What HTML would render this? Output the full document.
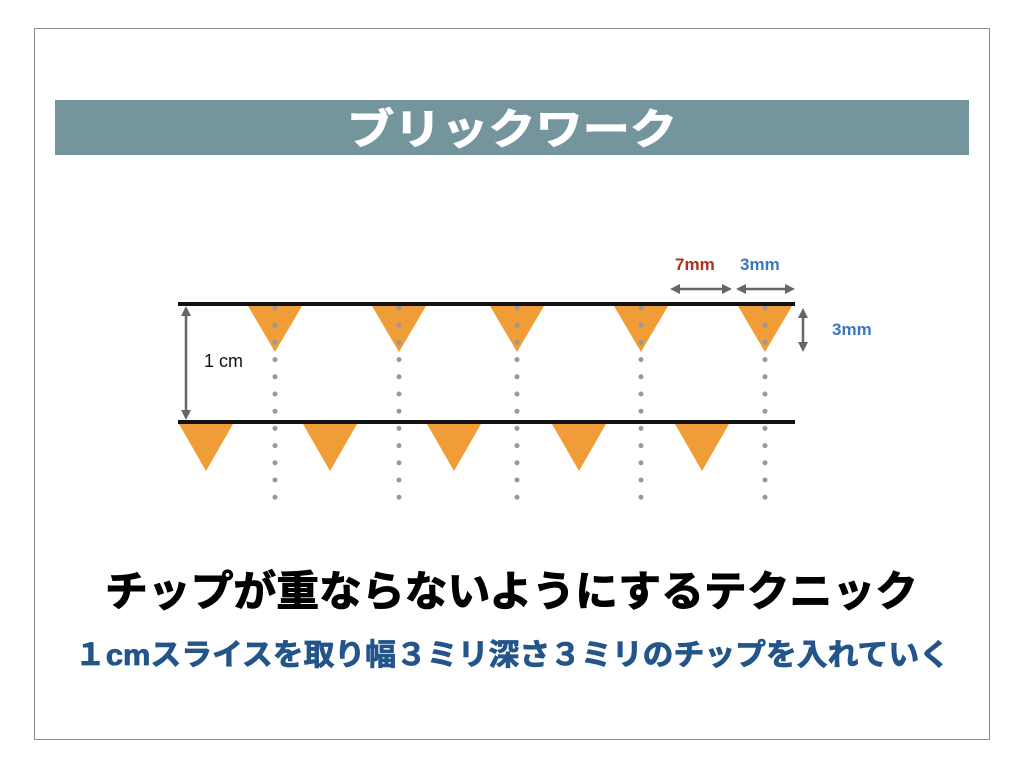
<!DOCTYPE html>
<html><head><meta charset="utf-8"><style>
html,body{margin:0;padding:0;background:#fff;}
svg{display:block}
</style></head><body>
<svg width="1024" height="768" viewBox="0 0 1024 768" xmlns="http://www.w3.org/2000/svg" font-family="'Liberation Sans','Noto Sans CJK JP',sans-serif">
<rect x="0" y="0" width="1024" height="768" fill="#fff"/>
<rect x="34.5" y="28.5" width="955" height="711" fill="none" stroke="#888" stroke-width="1"/>
<rect x="55" y="100" width="914" height="55" fill="#74959b"/>
<text x="512" y="144" text-anchor="middle" fill="#fff" font-size="42" font-weight="bold" textLength="330" lengthAdjust="spacingAndGlyphs" stroke="#fff" stroke-width="1">ブリックワーク</text>

<g fill="#f09d38">
<polygon points="248,306 302,306 275,352"/>
<polygon points="372,306 426,306 399,352"/>
<polygon points="490,306 544,306 517,352"/>
<polygon points="614,306 668,306 641,352"/>
<polygon points="738,306 792,306 765,352"/>
<polygon points="179,424 233,424 206,471"/>
<polygon points="303,424 357,424 330,471"/>
<polygon points="427,424 481,424 454,471"/>
<polygon points="552,424 606,424 579,471"/>
<polygon points="675,424 729,424 702,471"/>
</g>
<g stroke="#999" stroke-width="5" stroke-linecap="round" stroke-dasharray="0 17.2">
<line x1="275" y1="308" x2="275" y2="500"/>
<line x1="399" y1="308" x2="399" y2="500"/>
<line x1="517" y1="308" x2="517" y2="500"/>
<line x1="641" y1="308" x2="641" y2="500"/>
<line x1="765" y1="308" x2="765" y2="500"/>
</g>
<rect x="178" y="302" width="617" height="4" fill="#111"/>
<rect x="178" y="420" width="617" height="4" fill="#111"/>

<g stroke="#666" stroke-width="2.5" fill="#666">
<line x1="186" y1="312" x2="186" y2="414"/>
<polygon points="186,306 181,316 191,316" stroke="none"/>
<polygon points="186,420 181,410 191,410" stroke="none"/>
<line x1="803" y1="314" x2="803" y2="346"/>
<polygon points="803,308 798,318 808,318" stroke="none"/>
<polygon points="803,352 798,342 808,342" stroke="none"/>
<line x1="676" y1="289" x2="726" y2="289"/>
<polygon points="670,289 680,284 680,294" stroke="none"/>
<polygon points="732,289 722,284 722,294" stroke="none"/>
<line x1="742" y1="289" x2="789" y2="289"/>
<polygon points="736,289 746,284 746,294" stroke="none"/>
<polygon points="795,289 785,284 785,294" stroke="none"/>
</g>
<text x="204" y="367" font-size="18" fill="#111">1 cm</text>
<text x="675" y="270" font-size="17" font-weight="bold" fill="#b0301d">7mm</text>
<text x="740" y="270" font-size="17" font-weight="bold" fill="#3a78c0">3mm</text>
<text x="832" y="335" font-size="17" font-weight="bold" fill="#3a78c0">3mm</text>

<text x="105" y="606" font-size="42" font-weight="bold" fill="#000" stroke="#000" stroke-width="1" textLength="813" lengthAdjust="spacingAndGlyphs">チップが重ならないようにするテクニック</text>
<text x="75" y="665" font-size="30" font-weight="bold" fill="#23548a" stroke="#23548a" stroke-width="0.8" textLength="875" lengthAdjust="spacingAndGlyphs">１cmスライスを取り幅３ミリ深さ３ミリのチップを入れていく</text>
</svg>
</body></html>
